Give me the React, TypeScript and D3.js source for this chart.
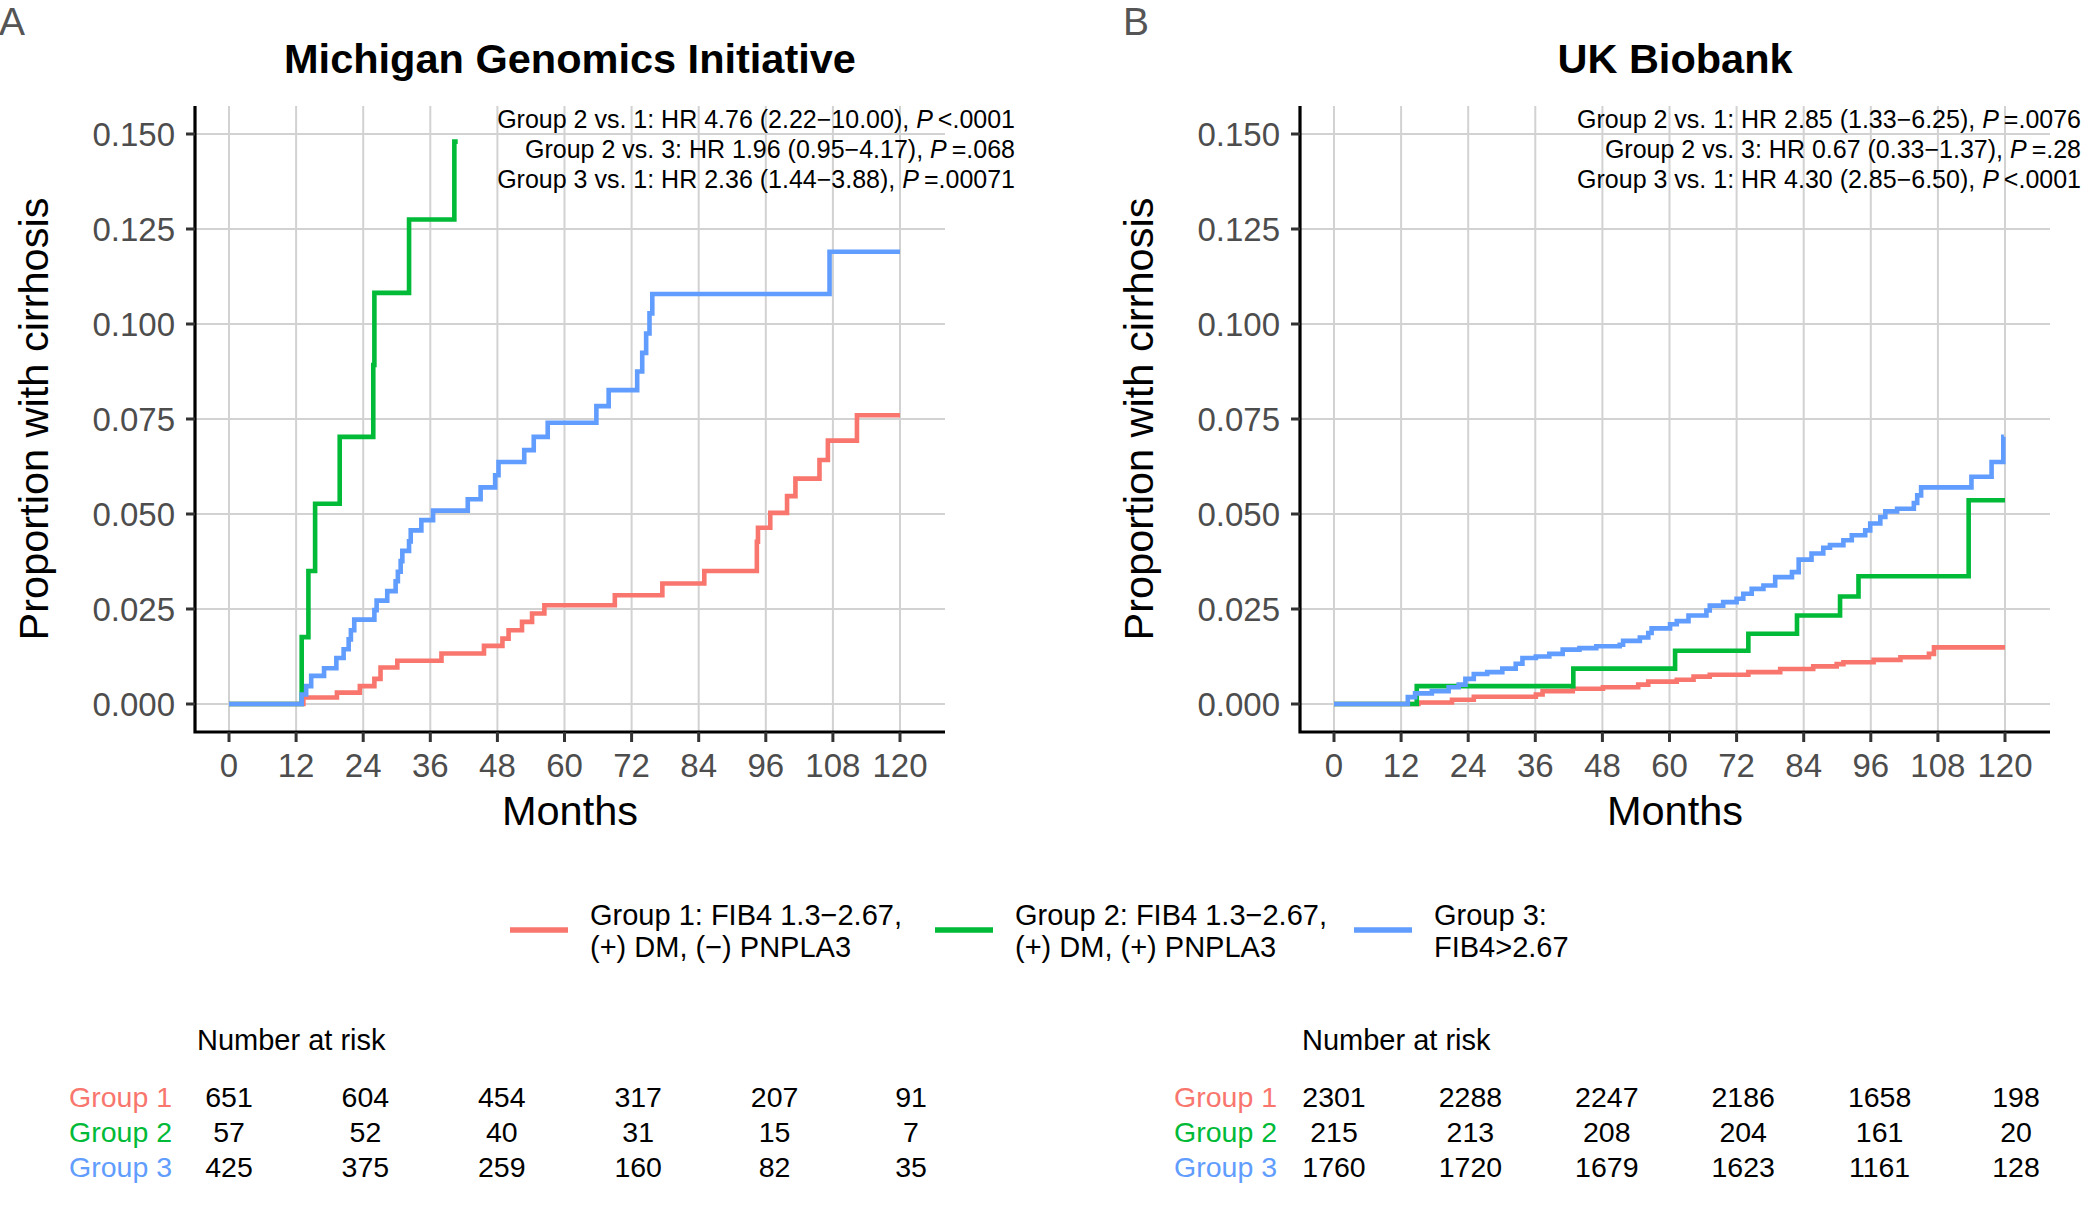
import React from 'react';
import * as d3 from 'd3';

// Cumulative incidence of cirrhosis: [month, proportion]
const mgiGroup1 = [[0, 0], [13.3, 0.0017], [19.3, 0.003], [23.4, 0.0047], [26.0, 0.0066], [27.1, 0.0096], [30.1, 0.0114], [38.0, 0.0133], [45.6, 0.0153], [48.9, 0.0172], [50.0, 0.0194], [52.4, 0.0216], [54.2, 0.0238], [56.4, 0.026], [69.0, 0.0286], [77.5, 0.0317], [85.0, 0.035], [94.4, 0.0427], [94.6, 0.0464], [96.8, 0.0503], [99.8, 0.0547], [101.3, 0.0593], [105.6, 0.0642], [107.1, 0.0693], [112.3, 0.076], [120, 0.076]];
const mgiGroup2 = [[0, 0], [13.0, 0.0176], [14.2, 0.035], [15.4, 0.0527], [19.8, 0.0703], [25.8, 0.0892], [26.0, 0.1082], [32.2, 0.1275], [40.3, 0.148], [40.9, 0.148]];
const mgiGroup3 = [[0, 0], [13.0, 0.0025], [13.8, 0.0047], [14.7, 0.0074], [17.0, 0.0094], [19.2, 0.0121], [20.5, 0.0144], [21.4, 0.017], [21.8, 0.0194], [22.4, 0.0222], [26.0, 0.0247], [26.4, 0.0272], [28.3, 0.0297], [29.8, 0.0323], [30.2, 0.0348], [30.7, 0.0376], [31.0, 0.0403], [32.2, 0.0428], [32.5, 0.0457], [34.4, 0.0484], [36.5, 0.0509], [42.7, 0.0539], [45.0, 0.057], [47.6, 0.0602], [48.2, 0.0637], [52.8, 0.0668], [54.5, 0.0703], [57.0, 0.074], [65.7, 0.0784], [67.9, 0.0826], [73.0, 0.0875], [73.9, 0.0924], [74.6, 0.0975], [75.2, 0.1028], [75.7, 0.1079], [107.4, 0.119], [120, 0.119]];

const ukbGroup1 = [[0, 0], [15.1, 0.0004], [21.1, 0.0011], [25.0, 0.0019], [36.1, 0.0025], [37.3, 0.0034], [42.7, 0.004], [48.1, 0.0044], [54.4, 0.0051], [56.2, 0.0059], [61.3, 0.0064], [64.3, 0.0072], [67.2, 0.0077], [74.1, 0.0084], [79.8, 0.0092], [85.7, 0.0099], [89.9, 0.0105], [91.1, 0.011], [96.5, 0.0116], [101.3, 0.0123], [106.4, 0.0132], [107.3, 0.0149], [120, 0.0149]];
const ukbGroup2 = [[0, 0], [14.8, 0.0047], [42.8, 0.0093], [61.0, 0.014], [74.1, 0.0185], [82.8, 0.0233], [90.5, 0.0283], [93.8, 0.0336], [113.5, 0.0536], [120, 0.0536]];
const ukbGroup3 = [[0, 0], [13.2, 0.0018], [14.5, 0.0028], [17.5, 0.0034], [20.5, 0.0044], [22.3, 0.0051], [23.5, 0.0066], [25.0, 0.0079], [27.4, 0.0084], [30.1, 0.0093], [32.5, 0.0106], [33.7, 0.0121], [36.1, 0.0125], [38.5, 0.0132], [40.9, 0.0143], [43.9, 0.0147], [46.9, 0.0152], [51.1, 0.0156], [51.7, 0.0166], [54.7, 0.0175], [56.2, 0.0187], [56.8, 0.0199], [60.1, 0.021], [61.3, 0.0218], [63.4, 0.0233], [66.6, 0.0246], [67.2, 0.0259], [69.6, 0.0268], [72.0, 0.0277], [73.2, 0.029], [74.7, 0.0303], [76.8, 0.0312], [78.9, 0.0334], [81.9, 0.0347], [83.1, 0.038], [85.4, 0.0396], [87.5, 0.0411], [88.7, 0.0418], [91.1, 0.0431], [92.6, 0.0444], [95.0, 0.0457], [95.9, 0.0475], [97.7, 0.0492], [98.6, 0.0507], [100.7, 0.0514], [103.7, 0.0529], [104.3, 0.0549], [105.0, 0.057], [114.0, 0.0598], [117.6, 0.0637], [119.7, 0.0703], [119.8, 0.0703]];

// number at risk
const riskMonths = [0, 24, 48, 72, 96, 120];
const mgiRisk1 = [651, 604, 454, 317, 207, 91];
const mgiRisk2 = [57, 52, 40, 31, 15, 7];
const mgiRisk3 = [425, 375, 259, 160, 82, 35];
const ukbRisk1 = [2301, 2288, 2247, 2186, 1658, 198];
const ukbRisk2 = [215, 213, 208, 204, 161, 20];
const ukbRisk3 = [1760, 1720, 1679, 1623, 1161, 128];

// hazard ratio annotations
const mgiHr = ['Group 2 vs. 1: HR 4.76 (2.22\u221210.00), ', 'Group 2 vs. 3: HR 1.96 (0.95\u22124.17), ', 'Group 3 vs. 1: HR 2.36 (1.44\u22123.88), '];
const mgiP = ['<.0001', '=.068', '=.00071'];
const ukbHr = ['Group 2 vs. 1: HR 2.85 (1.33\u22126.25), ', 'Group 2 vs. 3: HR 0.67 (0.33\u22121.37), ', 'Group 3 vs. 1: HR 4.30 (2.85\u22126.50), '];
const ukbP = ['=.0076', '=.28', '<.0001'];

const monthTicks = [0, 12, 24, 36, 48, 60, 72, 84, 96, 108, 120];
const propTicks = [0, 0.025, 0.05, 0.075, 0.1, 0.125, 0.15];
const groupNames = ['Group 1', 'Group 2', 'Group 3'];
const groupColors = ['#F8766D', '#00BA38', '#619CFF'];
const legendLabels = [
  ['Group 1: FIB4 1.3\u22122.67,', '(+) DM, (\u2212) PNPLA3'],
  ['Group 2: FIB4 1.3\u22122.67,', '(+) DM, (+) PNPLA3'],
  ['Group 3:', 'FIB4>2.67'],
];

const FONT = '"Liberation Sans", Arial, Helvetica, sans-serif';
const GRID = '#d2d2d2';
const TICK_TEXT = '#4d4d4d';

type Pt = number[];

interface PanelProps {
  offset: number;
  letter: string;
  letterX: number;
  title: string;
  series: Pt[][];
  risk: number[][];
  hr: string[];
  pv: string[];
  annRight: number;
}

const Panel: React.FC<PanelProps> = ({ offset, letter, letterX, title, series, risk, hr, pv, annRight }) => {
  // plot frame (panel A coordinates, shifted by offset)
  const left = 195, right = 945, top = 106, bottom = 732;
  const x = d3.scaleLinear().domain([0, 120]).range([229, 900]);
  const y = d3.scaleLinear().domain([0, 0.15]).range([704, 134]);
  const xRisk = d3.scaleLinear().domain([0, 120]).range([229, 911]);

  const line = d3.line<Pt>()
    .x(d => x(d[0]))
    .y(d => y(d[1]))
    .curve(d3.curveStepAfter);

  return (
    <g>
      <text x={letterX} y={35} fontSize={39} fill="#555" fontFamily={FONT} style={{ fontWeight: 300 }}>{letter}</text>
      <g transform={`translate(${offset},0)`}>
        <text x={(left + right) / 2} y={73} textAnchor="middle" fontSize={41.5} fontWeight="bold" fontFamily={FONT}>{title}</text>

        {/* grid */}
        {monthTicks.map(m => (
          <line key={'vg' + m} x1={x(m)} x2={x(m)} y1={top} y2={bottom} stroke={GRID} strokeWidth={2} />
        ))}
        {propTicks.map(p => (
          <line key={'hg' + p} x1={left} x2={right} y1={y(p)} y2={y(p)} stroke={GRID} strokeWidth={2} />
        ))}

        {/* curves */}
        {series.map((s, i) => (
          <path key={'c' + i} d={line(s) || ''} fill="none" stroke={groupColors[i]} strokeWidth={4.6} />
        ))}

        {/* axes */}
        <path d={`M${left},${top}V${bottom}H${right}`} fill="none" stroke="#000" strokeWidth={3.2} />
        {propTicks.map(p => (
          <g key={'yt' + p}>
            <line x1={left - 9} x2={left} y1={y(p)} y2={y(p)} stroke="#333" strokeWidth={3} />
            <text x={175} y={y(p)} dy="0.36em" textAnchor="end" fontSize={33} fill={TICK_TEXT} fontFamily={FONT}>
              {d3.format('.3f')(p)}
            </text>
          </g>
        ))}
        {monthTicks.map(m => (
          <g key={'xt' + m}>
            <line x1={x(m)} x2={x(m)} y1={bottom} y2={bottom + 10} stroke="#333" strokeWidth={3} />
            <text x={x(m)} y={777} textAnchor="middle" fontSize={33} fill={TICK_TEXT} fontFamily={FONT}>{m}</text>
          </g>
        ))}
        <text x={(left + right) / 2} y={825} textAnchor="middle" fontSize={41.5} fontFamily={FONT}>Months</text>
        <text transform={`translate(48,${(top + bottom) / 2}) rotate(-90)`} textAnchor="middle" fontSize={41.5} fontFamily={FONT}>
          Proportion with cirrhosis
        </text>

        {/* hazard ratios */}
        {hr.map((h, i) => (
          <text key={'hr' + i} x={annRight - offset} y={128 + i * 30} textAnchor="end" fontSize={25} fontFamily={FONT}>
            {h}<tspan fontStyle="italic">P</tspan>{'\u2009' + pv[i]}
          </text>
        ))}

        {/* risk table */}
        <text x={197} y={1050} fontSize={29} fontFamily={FONT}>Number at risk</text>
        {risk.map((row, i) => (
          <g key={'r' + i}>
            <text x={172} y={1107 + i * 35} textAnchor="end" fontSize={28.5} fill={groupColors[i]} fontFamily={FONT}>
              {groupNames[i]}
            </text>
            {row.map((n, j) => (
              <text key={j} x={xRisk(riskMonths[j])} y={1107 + i * 35} textAnchor="middle" fontSize={28.5} fontFamily={FONT}>
                {n}
              </text>
            ))}
          </g>
        ))}
      </g>
    </g>
  );
};

const legendKeyX = [510, 935, 1354];

const App: React.FC = () => {
  return (
    <div style={{ position: 'absolute', left: 0, top: 0, width: 2082, height: 1205, background: '#fff' }}>
      <svg width={2082} height={1205} viewBox="0 0 2082 1205" style={{ display: 'block' }}>
        <rect width={2082} height={1205} fill="#fff" />
        <Panel
          offset={0}
          letter="A"
          letterX={-1}
          title="Michigan Genomics Initiative"
          series={[mgiGroup1, mgiGroup2, mgiGroup3]}
          risk={[mgiRisk1, mgiRisk2, mgiRisk3]}
          hr={mgiHr}
          pv={mgiP}
          annRight={1015}
        />
        <Panel
          offset={1105}
          letter="B"
          letterX={1123}
          title="UK Biobank"
          series={[ukbGroup1, ukbGroup2, ukbGroup3]}
          risk={[ukbRisk1, ukbRisk2, ukbRisk3]}
          hr={ukbHr}
          pv={ukbP}
          annRight={2081}
        />
        {/* legend */}
        {legendLabels.map((lab, i) => (
          <g key={'lg' + i}>
            <line x1={legendKeyX[i]} x2={legendKeyX[i] + 58} y1={930} y2={930} stroke={groupColors[i]} strokeWidth={5.5} />
            <text x={legendKeyX[i] + 80} y={925} fontSize={29} fontFamily={FONT}>
              <tspan x={legendKeyX[i] + 80}>{lab[0]}</tspan>
              <tspan x={legendKeyX[i] + 80} dy={32}>{lab[1]}</tspan>
            </text>
          </g>
        ))}
      </svg>
    </div>
  );
};

export default App;
